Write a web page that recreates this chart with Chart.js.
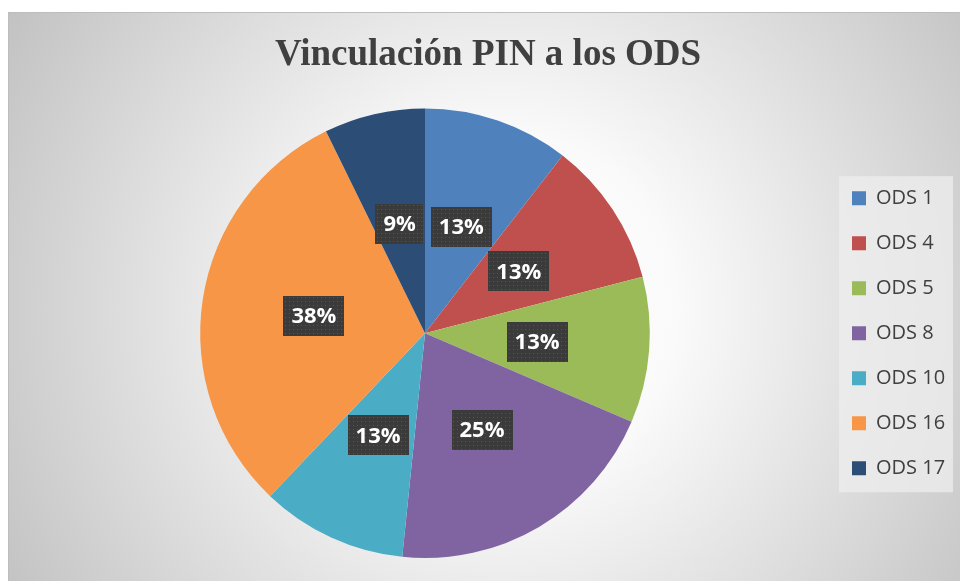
<!DOCTYPE html>
<html>
<head>
<meta charset="utf-8">
<script src="https://cdn.jsdelivr.net/npm/chart.js@4"></script>
<style>
html, body { margin: 0; padding: 0; width: 960px; height: 581px; overflow: hidden; background: #fff; }
#frame {
  position: absolute; left: 8px; top: 12px; width: 970px; height: 590px;
  border: 1px solid #bdbdbd;
  background: radial-gradient(circle farthest-corner at 51% 50%, #ffffff 0%, #fafafa 30%, #c2c2c2 100%);
}
#wrap { position: absolute; left: 0; top: 0; width: 960px; height: 581px; }
</style>
</head>
<body>
<div id="frame"></div>
<div id="wrap"><canvas id="chart"></canvas></div>
<script>
// chart data
const labels = ["ODS 1", "ODS 4", "ODS 5", "ODS 8", "ODS 10", "ODS 16", "ODS 17"]
const values = [13, 13, 13, 25, 13, 38, 9]
const colors = ["#4F81BD", "#C0504D", "#9BBB59", "#8064A2", "#4BACC6", "#F79646", "#2C4D75"]

function dotPattern(ctx) {
  const c = document.createElement("canvas")
  c.width = 4
  c.height = 4
  const p = c.getContext("2d")
  p.fillStyle = "#3b3b3b"
  p.fillRect(0, 0, 4, 4)
  p.fillStyle = "#555555"
  p.fillRect(1, 1, 1, 1)
  return ctx.createPattern(c, "repeat")
}

// grey panel behind the legend
const legendPanel = {
  id: "legendPanel",
  beforeDraw(chart) {
    const lg = chart.legend
    const ctx = chart.ctx
    const cy = (chart.chartArea.top + chart.chartArea.bottom) / 2
    ctx.save()
    ctx.fillStyle = "rgba(238,238,238,0.75)"
    ctx.fillRect(lg.left + 12, cy - 157, lg.right - lg.left - 12, 316)
    ctx.restore()
  }
}

// percent boxes on the slices
const pctLabels = {
  id: "pctLabels",
  afterDatasetsDraw(chart) {
    const ctx = chart.ctx
    const meta = chart.getDatasetMeta(0)
    const pattern = dotPattern(ctx)
    ctx.save()
    ctx.font = "bold 22px 'Open Sans'"
    ctx.textAlign = "center"
    ctx.textBaseline = "middle"
    meta.data.forEach((arc, i) => {
      const pos = arc.tooltipPosition()
      const txt = values[i] + "%"
      const w = ctx.measureText(txt).width + 16
      const h = 40
      ctx.fillStyle = pattern
      ctx.fillRect(Math.round(pos.x - w / 2), Math.round(pos.y - h / 2), Math.round(w), h)
      ctx.fillStyle = "#ffffff"
      ctx.fillText(txt, pos.x, pos.y + 1)
    })
    ctx.restore()
  }
}

// fixed legend width so the pie sits where it should
const legendWidth = {
  id: "legendWidth",
  beforeInit(chart) {
    const fit = chart.legend.fit
    chart.legend.fit = function () {
      fit.call(this)
      this.width = 126
    }
  }
}

const ctx = document.getElementById("chart").getContext("2d")

new Chart(ctx, {
  type: "pie",
  data: {
    labels: labels,
    datasets: [{
      data: values,
      backgroundColor: colors,
      borderWidth: 0,
      hoverOffset: 0
    }]
  },
  options: {
    responsive: true,
    maintainAspectRatio: false,
    animation: false,
    events: [],
    layout: { padding: { top: 12, left: 23, right: 7, bottom: 23 } },
    plugins: {
      title: {
        display: true,
        text: "Vinculación PIN a los ODS",
        color: "#404040",
        font: { family: "'Liberation Serif', 'Times New Roman', serif", size: 37, weight: "bold" },
        padding: { top: 21, bottom: 31 }
      },
      legend: {
        position: "right",
        fullSize: false,
        labels: {
          boxWidth: 14,
          boxHeight: 14,
          padding: 25,
          color: "#404040",
          font: { family: "'Open Sans'", size: 20 }
        }
      },
      tooltip: { enabled: false }
    }
  },
  plugins: [legendWidth, legendPanel, pctLabels]
})
</script>
</body>
</html>
